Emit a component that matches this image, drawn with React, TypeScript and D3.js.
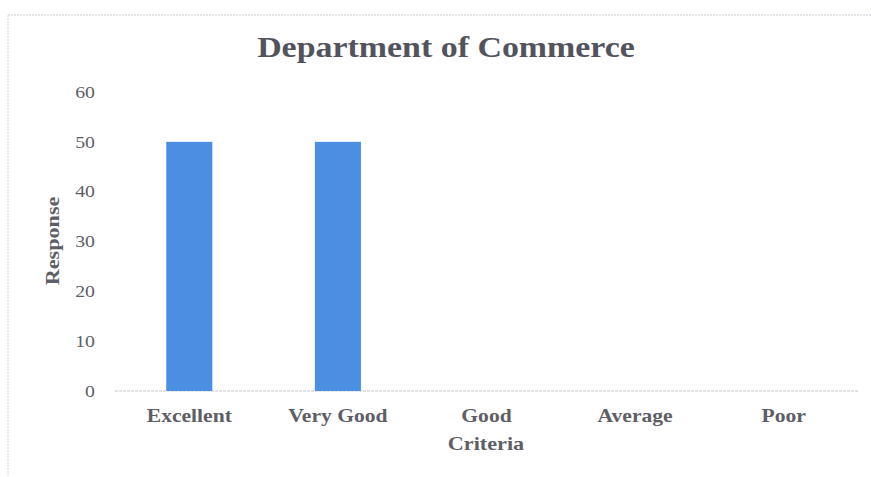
import React from "react";
import * as d3 from "d3";

const categories = ["Excellent", "Very Good", "Good", "Average", "Poor"];
const responses = [50, 50, 0, 0, 0];
const yTicks = [0, 10, 20, 30, 40, 50, 60];
const title = "Department of Commerce";
const xTitle = "Criteria";
const yTitle = "Response";

export default function App() {
  const W = 871;
  const H = 477;
  const x = d3.scaleBand<string>().domain(categories).range([115, 858]).paddingInner(0.69).paddingOuter(0.345);
  const y = d3.scaleLinear().domain([0, 60]).range([391, 92]);
  const font = "'Liberation Serif', 'Times New Roman', serif";
  const txt = "#5e5e66";
  return (
    <svg width={W} height={H} style={{ position: "absolute", left: 0, top: 0, background: "#fff" }}>
      <rect x={0} y={0} width={W} height={H} fill="#ffffff" />
      <line x1={8} x2={W} y1={15} y2={15} stroke="#c8c8d0" strokeDasharray="2,1" strokeWidth={1} />
      <line x1={8} x2={8} y1={15} y2={H} stroke="#d4d4dc" strokeDasharray="2,1" strokeWidth={1} />
      <text transform="translate(446,57) scale(1.15,1)" textAnchor="middle" fontFamily={font} fontWeight="bold" fontSize={29.5} fill="#53535e">
        {title}
      </text>
      {yTicks.map((t) => (
        <text key={t} transform={`translate(95,${y(t)}) scale(1.2,1)`} dy="0.35em" textAnchor="end" fontFamily={font} fontSize={16.5} fill={txt}>
          {t}
        </text>
      ))}
      <line x1={115} x2={858} y1={y(0)} y2={y(0)} stroke="#c4c4cc" strokeDasharray="3,1" strokeWidth={1} />
      {categories.map((c, i) => (
        <rect key={c} x={x(c)} y={y(responses[i])} width={x.bandwidth()} height={y(0) - y(responses[i])} fill="#4a8fe2" />
      ))}
      {categories.map((c) => (
        <text key={c} transform={`translate(${(x(c) as number) + x.bandwidth() / 2},422) scale(1.2,1)`} textAnchor="middle" fontFamily={font} fontWeight="bold" fontSize={18} fill={txt}>
          {c}
        </text>
      ))}
      <text transform="translate(486,450) scale(1.2,1)" textAnchor="middle" fontFamily={font} fontWeight="bold" fontSize={18.5} fill={txt}>
        {xTitle}
      </text>
      <text transform="translate(59,241) rotate(-90) scale(1.2,1)" textAnchor="middle" fontFamily={font} fontWeight="bold" fontSize={18.5} fill={txt}>
        {yTitle}
      </text>
    </svg>
  );
}
